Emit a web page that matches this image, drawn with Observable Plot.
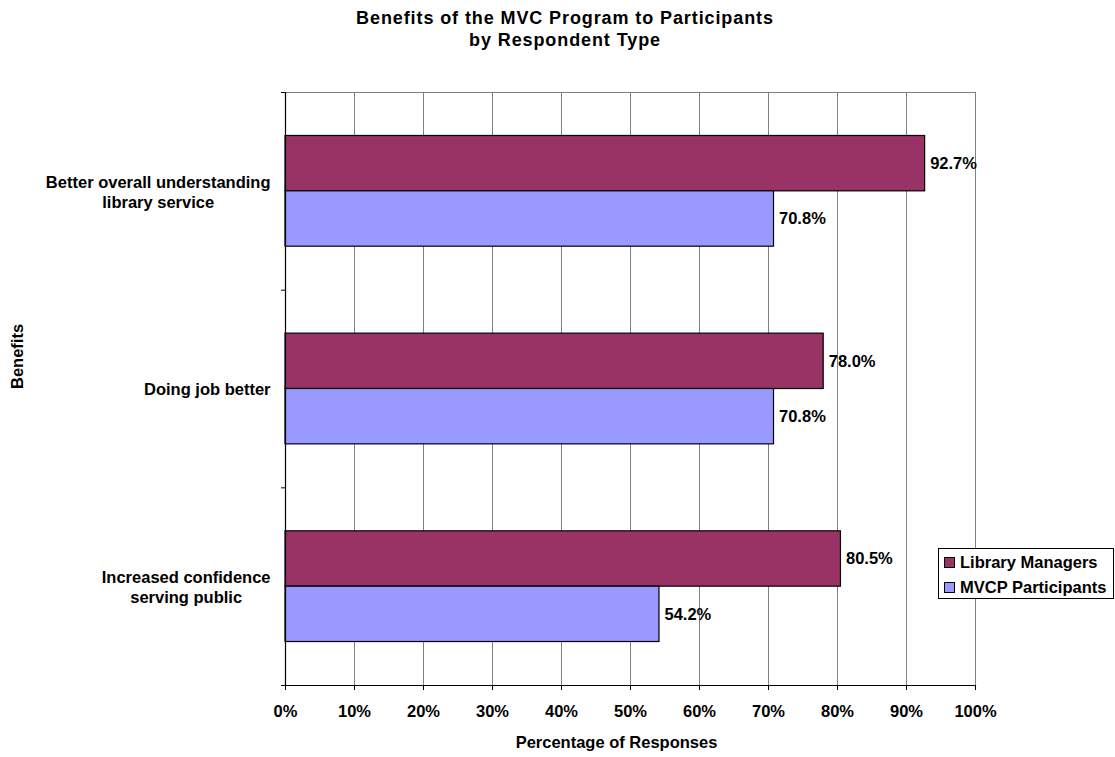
<!DOCTYPE html>
<html><head><meta charset="utf-8">
<script src="https://cdn.jsdelivr.net/npm/d3@7"></script>
<script src="https://cdn.jsdelivr.net/npm/@observablehq/plot@0.6"></script>
<style>
body{margin:0;background:#fff;font-family:"Liberation Sans",Arial,sans-serif;width:1115px;height:757px;overflow:hidden;position:relative}
#title{box-sizing:border-box;height:60px;padding:7px 0 0 15px;text-align:center;font-weight:bold;font-size:18px;line-height:22px;letter-spacing:0.9px;color:#000}
#legend{position:absolute;left:938px;top:548px;width:176px;height:51px;box-sizing:border-box;border:1px solid #000;background:#fff;font-weight:bold;font-size:16.5px;color:#000}
.item{position:absolute;left:5px;height:20px;display:flex;align-items:center;white-space:nowrap}
.sw{width:9px;height:9px;border:1px solid #000;margin-right:5px}
</style></head><body>
<div id="title">Benefits of the MVC Program to Participants<br>by Respondent Type</div>
<div id="chart"></div>
<div id="legend"></div>
<script>
const categories = ["Better overall understanding\nlibrary service", "Doing job better", "Increased confidence\nserving public"];
const series = ["Library Managers", "MVCP Participants"];
const libraryManagers = [92.7, 78.0, 80.5];
const mvcpParticipants = [70.8, 70.8, 54.2];
const xTicks = [0, 10, 20, 30, 40, 50, 60, 70, 80, 90, 100];
const colors = ["#993366", "#9999FF"];

const W = 1115, H = 697, mT = 32, mB = 72, mL = 285, mR = 140;
const bw = (H - mT - mB) / categories.length;
const barH = bw * 0.28, outer = bw * 0.22;
const FONT = "16.5px";

const rows = [];
categories.forEach((c, i) => {
  rows.push({cat: c, series: series[0], value: libraryManagers[i]});
  rows.push({cat: c, series: series[1], value: mvcpParticipants[i]});
});
const lm = rows.filter(d => d.series === series[0]);
const mv = rows.filter(d => d.series === series[1]);

const ctx = document.createElement("canvas").getContext("2d");
ctx.font = "bold " + FONT + " 'Liberation Sans'";
const blockW = s => d3.max(s.split("\n"), t => ctx.measureText(t).width);

const labelDy = bw / 2 - outer - barH / 2;

const chart = Plot.plot({
  width: W, height: H, marginTop: mT, marginBottom: mB, marginLeft: mL, marginRight: mR,
  style: {fontFamily: "'Liberation Sans', Arial, sans-serif", fontSize: FONT, fontWeight: "bold", color: "#000", background: "#fff"},
  x: {domain: [0, 100]},
  y: {domain: categories, padding: 0, round: false},
  marks: [
    Plot.gridX({ticks: xTicks.filter(d => d > 0), stroke: "#808080", strokeOpacity: 1, strokeWidth: 1}),
    Plot.frame({anchor: "top", stroke: "#808080", strokeWidth: 1}),
    Plot.barX(lm, {x: "value", y: "cat", fill: colors[0], stroke: "#000", strokeWidth: 1.2, insetTop: outer, insetBottom: outer + barH}),
    Plot.barX(mv, {x: "value", y: "cat", fill: colors[1], stroke: "#000", strokeWidth: 1.2, insetTop: outer + barH, insetBottom: outer}),
    Plot.ruleX([0], {stroke: "#000", strokeWidth: 1.2}),
    Plot.frame({anchor: "bottom", stroke: "#000", strokeWidth: 1.2}),
    Plot.axisY({ticks: categories, tickSize: 4, tickFormat: () => "", dy: -bw / 2, stroke: "#000", label: null}),
    Plot.axisY({ticks: [categories[categories.length - 1]], tickSize: 4, tickFormat: () => "", dy: bw / 2, stroke: "#000", label: null}),
    Plot.axisX({ticks: xTicks, tickFormat: d => d + "%", tickSize: 5, tickPadding: 15, stroke: "#000", label: null, fill: "#000"}),
    Plot.text(lm, {x: "value", y: "cat", text: d => d.value.toFixed(1) + "%", dx: 5, dy: -labelDy, textAnchor: "start", fill: "#000"}),
    Plot.text(mv, {x: "value", y: "cat", text: d => d.value.toFixed(1) + "%", dx: 5, dy: labelDy, textAnchor: "start", fill: "#000"}),
    ...categories.map(c => Plot.text([c], {y: d => d, text: d => d, frameAnchor: "left", textAnchor: "middle", lineHeight: 1.21, dx: -(15 + blockW(c) / 2), fill: "#000"})),
    Plot.text(["Benefits"], {text: d => d, frameAnchor: "left", rotate: -90, dx: -268, fill: "#000"}),
    Plot.text(["Percentage of Responses"], {text: d => d, frameAnchor: "bottom", dx: -14, dy: 62, fill: "#000"})
  ]
});
document.getElementById("chart").appendChild(chart);

const legend = document.getElementById("legend");
series.forEach((s, i) => {
  const it = document.createElement("div");
  it.className = "item";
  it.style.top = (3 + i * 25.5) + "px";
  const sw = document.createElement("div");
  sw.className = "sw";
  sw.style.background = colors[i];
  const tx = document.createElement("span");
  tx.textContent = s;
  it.appendChild(sw); it.appendChild(tx);
  legend.appendChild(it);
});
</script>
</body></html>
